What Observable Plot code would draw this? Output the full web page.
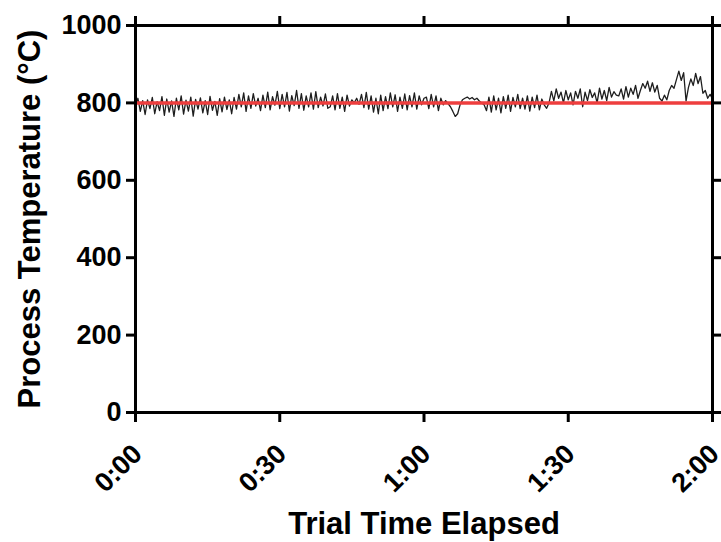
<!DOCTYPE html>
<html>
<head>
<meta charset="utf-8">
<script src="https://cdn.jsdelivr.net/npm/d3@7"></script>
<script src="https://cdn.jsdelivr.net/npm/@observablehq/plot@0.6"></script>
<style>
  html, body { margin: 0; padding: 0; background: #fff; }
  #chart { width: 721px; height: 542px; }
</style>
</head>
<body>
<div id="chart"></div>
<script>
// Sample interval of the recorded process temperature, in minutes
const sampleStepMin = 0.5;

// Recorded process temperature (°C), one reading every 0.5 min from 0:00 to 2:00
const processTemps = [
  // 0:00 – 0:20
  790, 812, 778, 806, 770, 808, 785, 814, 772, 803, 780, 816, 768, 810, 776, 805, 765, 812, 782, 818,
  771, 807, 779, 815, 766, 809, 784, 813, 774, 806, 770, 817, 781, 804, 768, 811, 777, 815, 783, 808, 772,
  // 0:20.5 – 0:40
  814, 784, 822, 790, 826, 778, 818, 786, 824, 792, 812, 780, 820, 788, 828, 782, 816, 794, 830, 785,
  822, 790, 827, 779, 819, 793, 832, 786, 824, 781, 818, 790, 826, 784, 829, 788, 815, 792, 823, 786,
  // 0:40.5 – 1:00
  790, 818, 782, 824, 786, 815, 778, 820, 792, 808, 800, 812, 796, 822, 788, 827, 784, 818, 776, 812,
  772, 820, 780, 816, 785, 826, 790, 821, 778, 815, 786, 823, 782, 819, 790, 826, 784, 818, 795, 812,
  // 1:00.5 – 1:20
  815, 785, 822, 790, 818, 780, 812, 795, 806, 798, 790, 778, 765, 772, 795, 808, 812, 815, 810, 814,
  808, 812, 805, 800, 795, 780, 815, 776, 818, 782, 812, 774, 816, 786, 820, 778, 814, 790, 822, 785,
  // 1:20.5 – 1:40
  812, 784, 818, 779, 815, 788, 820, 782, 810, 795, 786, 800, 830, 805, 836, 812, 828, 800, 832, 808,
  826, 795, 830, 812, 836, 790, 828, 806, 834, 814, 826, 800, 838, 810, 832, 806, 840, 815, 829, 820,
  // 1:40.5 – 2:00
  818, 836, 810, 842, 815, 838, 822, 845, 812, 832, 850, 838, 856, 830, 852, 828, 845, 812, 805, 820,
  808, 832, 845, 838, 860, 882, 858, 878, 805, 840, 862, 845, 876, 850, 868, 825, 832, 812, 822, 810
];

// Set point (°C)
const setPoint = [800];

// Axis ticks
const xTickMinutes = [0, 30, 60, 90, 120];
const xTickLabels = ["0:00", "0:30", "1:00", "1:30", "2:00"];
const yTicks = [0, 200, 400, 600, 800, 1000];

const xTitle = "Trial Time Elapsed";
const yTitle = "Process Temperature (°C)";

const series = processTemps.map((v, i) => ({ t: i * sampleStepMin, v }));
const fmtX = d => xTickLabels[xTickMinutes.indexOf(d)];

const font = "Liberation Sans, Arial, Helvetica, sans-serif";

const chart = Plot.plot({
  width: 721,
  height: 542,
  marginLeft: 135,
  marginRight: 9,
  marginTop: 25,
  marginBottom: 130,
  style: { fontFamily: font, fontWeight: "bold", fontSize: "27px", color: "#000", background: "#fff", overflow: "visible" },
  x: { domain: [0, 120] },
  y: { domain: [0, 1000] },
  marks: [
    Plot.lineY(series, { x: "t", y: "v", stroke: "#1e1e1e", strokeWidth: 1.3 }),
    Plot.ruleY(setPoint, { stroke: "#ee3e3e", strokeWidth: 3.5 }),
    Plot.frame({ stroke: "#000", strokeWidth: 3 }),
    Plot.axisY({ ticks: yTicks, tickSize: 9, tickPadding: 5, strokeWidth: 3, tickFormat: d => String(d), label: null, fontSize: 27, fontWeight: "bold" }),
    Plot.axisY({ anchor: "right", ticks: yTicks, tickSize: 9, strokeWidth: 3, tickFormat: () => "", label: null }),
    Plot.axisX({ ticks: xTickMinutes, tickSize: 10, strokeWidth: 3, tickFormat: () => "", label: null }),
    Plot.axisX({ ticks: xTickMinutes, tickFormat: fmtX, tickSize: 0, tickPadding: 37, dx: 2, tickRotate: -45, label: null, fontSize: 27, fontWeight: "bold" }),
    Plot.axisX({ anchor: "top", ticks: xTickMinutes, tickSize: 10, strokeWidth: 3, tickFormat: () => "", label: null }),
    Plot.text([yTitle], { frameAnchor: "left", textAnchor: "middle", dx: -105, rotate: -90, fontSize: 31, fontWeight: "bold", fill: "#000" }),
    Plot.text([xTitle], { frameAnchor: "bottom", textAnchor: "middle", dy: 121, fontSize: 31, fontWeight: "bold", fill: "#000" })
  ]
});

document.getElementById("chart").appendChild(chart);
</script>
</body>
</html>
